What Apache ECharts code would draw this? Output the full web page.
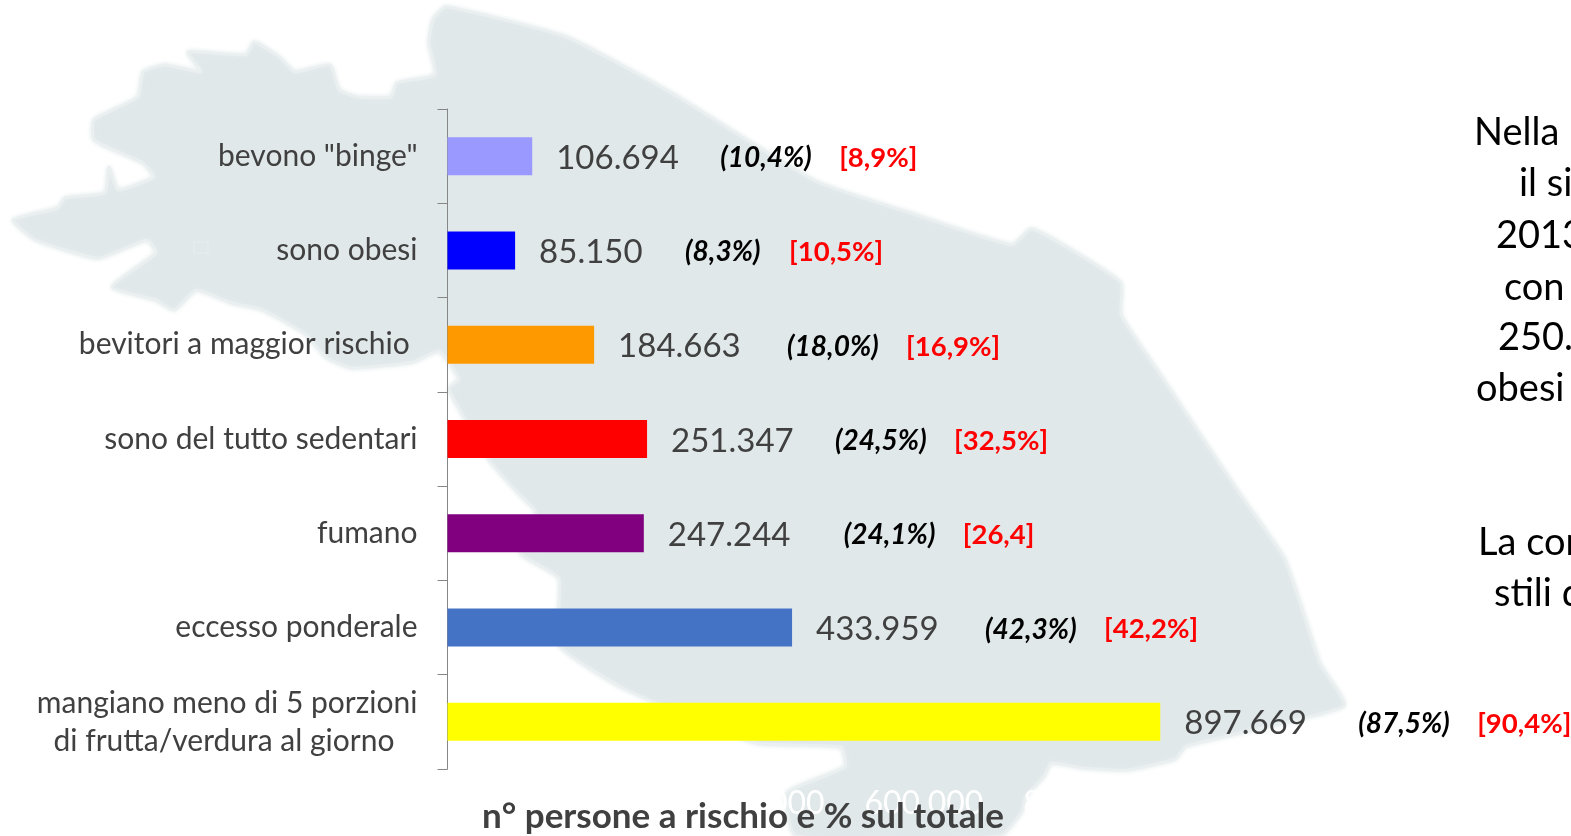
<!DOCTYPE html>
<html><head><meta charset="utf-8">
<style>html,body{margin:0;padding:0;background:#fff;overflow:hidden}#c{width:1571px;height:836px}</style>
<script src="https://cdn.jsdelivr.net/npm/echarts@6/dist/echarts.min.js"></script>
</head><body><div id="c"></div>
<script>
const categories = ['bevono "binge"','sono obesi','bevitori a maggior rischio ','sono del tutto sedentari','fumano','eccesso ponderale','mangiano meno di 5 porzioni\ndi frutta/verdura al giorno   '];
const values = [106694,85150,184663,251347,247244,433959,897669];
const valueLabels = ['106.694','85.150','184.663','251.347','247.244','433.959','897.669'];
const pctLabels = ['(10,4%)','(8,3%)','(18,0%)','(24,5%)','(24,1%)','(42,3%)','(87,5%)'];
const refLabels = ['[8,9%]','[10,5%]','[16,9%]','[32,5%]','[26,4]','[42,2%]','[90,4%]'];
const barColors = ['#9999ff','#0000ff','#ff9900','#ff0000','#800080','#4472c4','#ffff00'];
const titleText = 'n° persone a rischio e % sul totale';
const sideLines = ['Nella','il si','2013','con','250.','obesi','La con','stili di'];
// layout only
const valueCols = [164,146,169,164,176,169,174];
const pctCols = [119,104,119,119,119,119,119];
const sideX = [1474,1519,1496,1504,1498,1476,1478,1494];
const sideY = [133,184,236,288,338,389,543,594];
const mapOutline = [[446,7],[433,20],[429,43],[435,75],[397,83],[391,97],[357,97],[339,90],[330,65],[295,72],[279,57],[254,42],[246,55],[188,52],[201,72],[165,65],[143,72],[138,97],[94,120],[94,140],[143,163],[154,177],[118,190],[109,167],[105,193],[65,198],[58,208],[13,220],[36,240],[98,258],[147,240],[156,253],[112,287],[156,300],[174,310],[196,290],[232,303],[263,310],[304,333],[327,358],[352,368],[413,362],[439,351],[459,379],[449,389],[490,461],[520,495],[536,512],[520,553],[559,578],[559,645],[623,688],[756,743],[841,747],[845,767],[787,793],[796,836],[1000,836],[1022,811],[1025,797],[1044,776],[1051,763],[1084,768],[1127,770],[1175,759],[1186,746],[1344,706],[1320,664],[1302,609],[1284,558],[1244,500],[1223,469],[1159,373],[1121,315],[1121,283],[1063,245],[1031,229],[1012,245],[910,213],[815,181],[668,91],[566,37]];
const FONT = 'Lato';
const chart = echarts.init(document.getElementById('c'));
const rich = {};
valueCols.forEach((w,i)=>{
  rich['v'+i] = {fontFamily:FONT,fontSize:33,color:'#404040',width:valueCols[i]};
  rich['p'+i] = {fontFamily:FONT,fontSize:28,fontWeight:'bold',fontStyle:'italic',color:'#000',width:pctCols[i]};
});
rich.r = {fontFamily:FONT,fontSize:27.5,fontWeight:'bold',color:'#ff0000'};
chart.setOption({
  animation:false,
  backgroundColor:'#fff',
  grid:{left:447.5,top:109,width:794,height:660,containLabel:false},
  title:{text:titleText,left:477,top:794,textStyle:{fontFamily:FONT,fontSize:35,fontWeight:'bold',color:'#404040'},z:10},
  xAxis:{type:'value',min:0,max:1000000,interval:200000,
    axisLine:{show:false},axisTick:{show:false},splitLine:{show:false},
    axisLabel:{color:'#fff',fontFamily:FONT,fontSize:32,margin:19,formatter:v=>String(v).replace(/\B(?=(\d{3})+$)/g,'.')}},
  yAxis:{type:'category',inverse:true,data:categories,
    axisLine:{show:true,lineStyle:{color:'#868686',width:1}},
    axisTick:{show:true,length:10,lineStyle:{color:'#868686',width:1}},
    axisLabel:{color:'#404040',fontFamily:FONT,fontSize:30,margin:30,lineHeight:38,align:'right'}},
  series:[{type:'bar',barWidth:38,
    data:values.map((v,i)=>({value:v,itemStyle:{color:barColors[i]},
      label:{show:true,position:'right',distance:24,offset:[0,2],rich,
        formatter:`{v${i}|${valueLabels[i]}}{p${i}|${pctLabels[i]}}{r|${refLabels[i]}}`}}))}],
  graphic:{elements:[
    {type:'polygon',z:-10,silent:true,shape:{points:mapOutline,smooth:0.15},
     style:{fill:'#e1e8ea',stroke:'#eaeff0',lineWidth:3,shadowBlur:5,shadowColor:'#e6ecee'}},
    {type:'rect',z:-9,silent:true,shape:{x:194,y:242,width:14,height:11},style:{fill:'none',stroke:'#e9eeef',lineWidth:1}},
    ...sideLines.map((t,i)=>({type:'text',x:sideX[i],y:sideY[i],z:5,silent:true,
      style:{text:t,font:'38px '+FONT,fill:'#000',textAlign:'left',textVerticalAlign:'middle'}}))
  ]}
});
</script></body></html>
